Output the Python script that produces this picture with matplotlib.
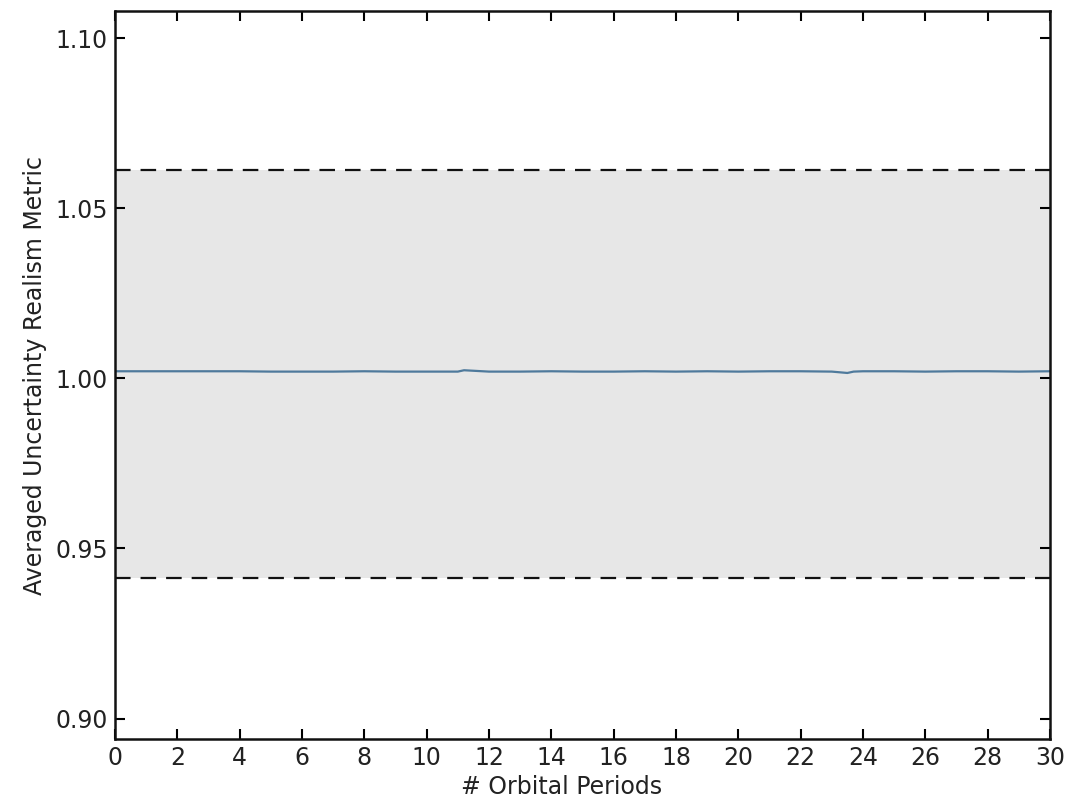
import numpy as np
import matplotlib
matplotlib.use("Agg")
import matplotlib.pyplot as plt

# averaged metric per orbital period
periods = [0, 1, 2, 3, 4, 5, 6, 7, 8, 9, 10, 11, 11.2, 12, 13, 14, 15, 16, 17, 18,
           19, 20, 21, 22, 23, 23.5, 23.7, 24, 25, 26, 27, 28, 29, 30]
metric = [1.0021, 1.0021, 1.0021, 1.0021, 1.0021, 1.0020, 1.0020, 1.0020, 1.0021, 1.0020,
          1.0020, 1.0020, 1.0024, 1.0020, 1.0020, 1.0021, 1.0020, 1.0020, 1.0021, 1.0020,
          1.0021, 1.0020, 1.0021, 1.0021, 1.0020, 1.0016, 1.0020, 1.0021, 1.0021, 1.0020,
          1.0021, 1.0021, 1.0020, 1.0021]

lower_bound = 0.9412
upper_bound = 1.0612

fig = plt.figure(figsize=(10.92, 7.99), dpi=100)
ax = fig.add_axes([0.1053, 0.0751, 0.8562, 0.9111])

ax.fill_between([0, 30], lower_bound, upper_bound, color='#e7e7e7', lw=0)
ax.axhline(upper_bound, color='#111111', ls=(0, (7, 4.5)), lw=1.6)
ax.axhline(lower_bound, color='#111111', ls=(0, (7, 4.5)), lw=1.6)
ax.plot(periods, metric, color='#4f7a9c', lw=1.6)

ax.set_xlim(0, 30)
ax.set_ylim(0.894, 1.108)
ax.set_xticks(range(0, 31, 2))
ax.set_yticks([0.90, 0.95, 1.00, 1.05, 1.10])
ax.tick_params(direction='in', top=True, right=True, length=7, width=1.5,
               labelsize=17, pad=5, labelcolor='#222222')
for s in ax.spines.values():
    s.set_linewidth(1.8)
    s.set_color('#111111')

ax.set_xlabel('# Orbital Periods', fontsize=17, color='#222222')
ax.xaxis.set_label_coords(0.478, -0.049, transform=ax.transAxes)
ax.xaxis.label.set_va('top')
ax.set_ylabel('Averaged Uncertainty Realism Metric', fontsize=17, labelpad=6,
              color='#222222')

fig.savefig('out.png', dpi=100)
